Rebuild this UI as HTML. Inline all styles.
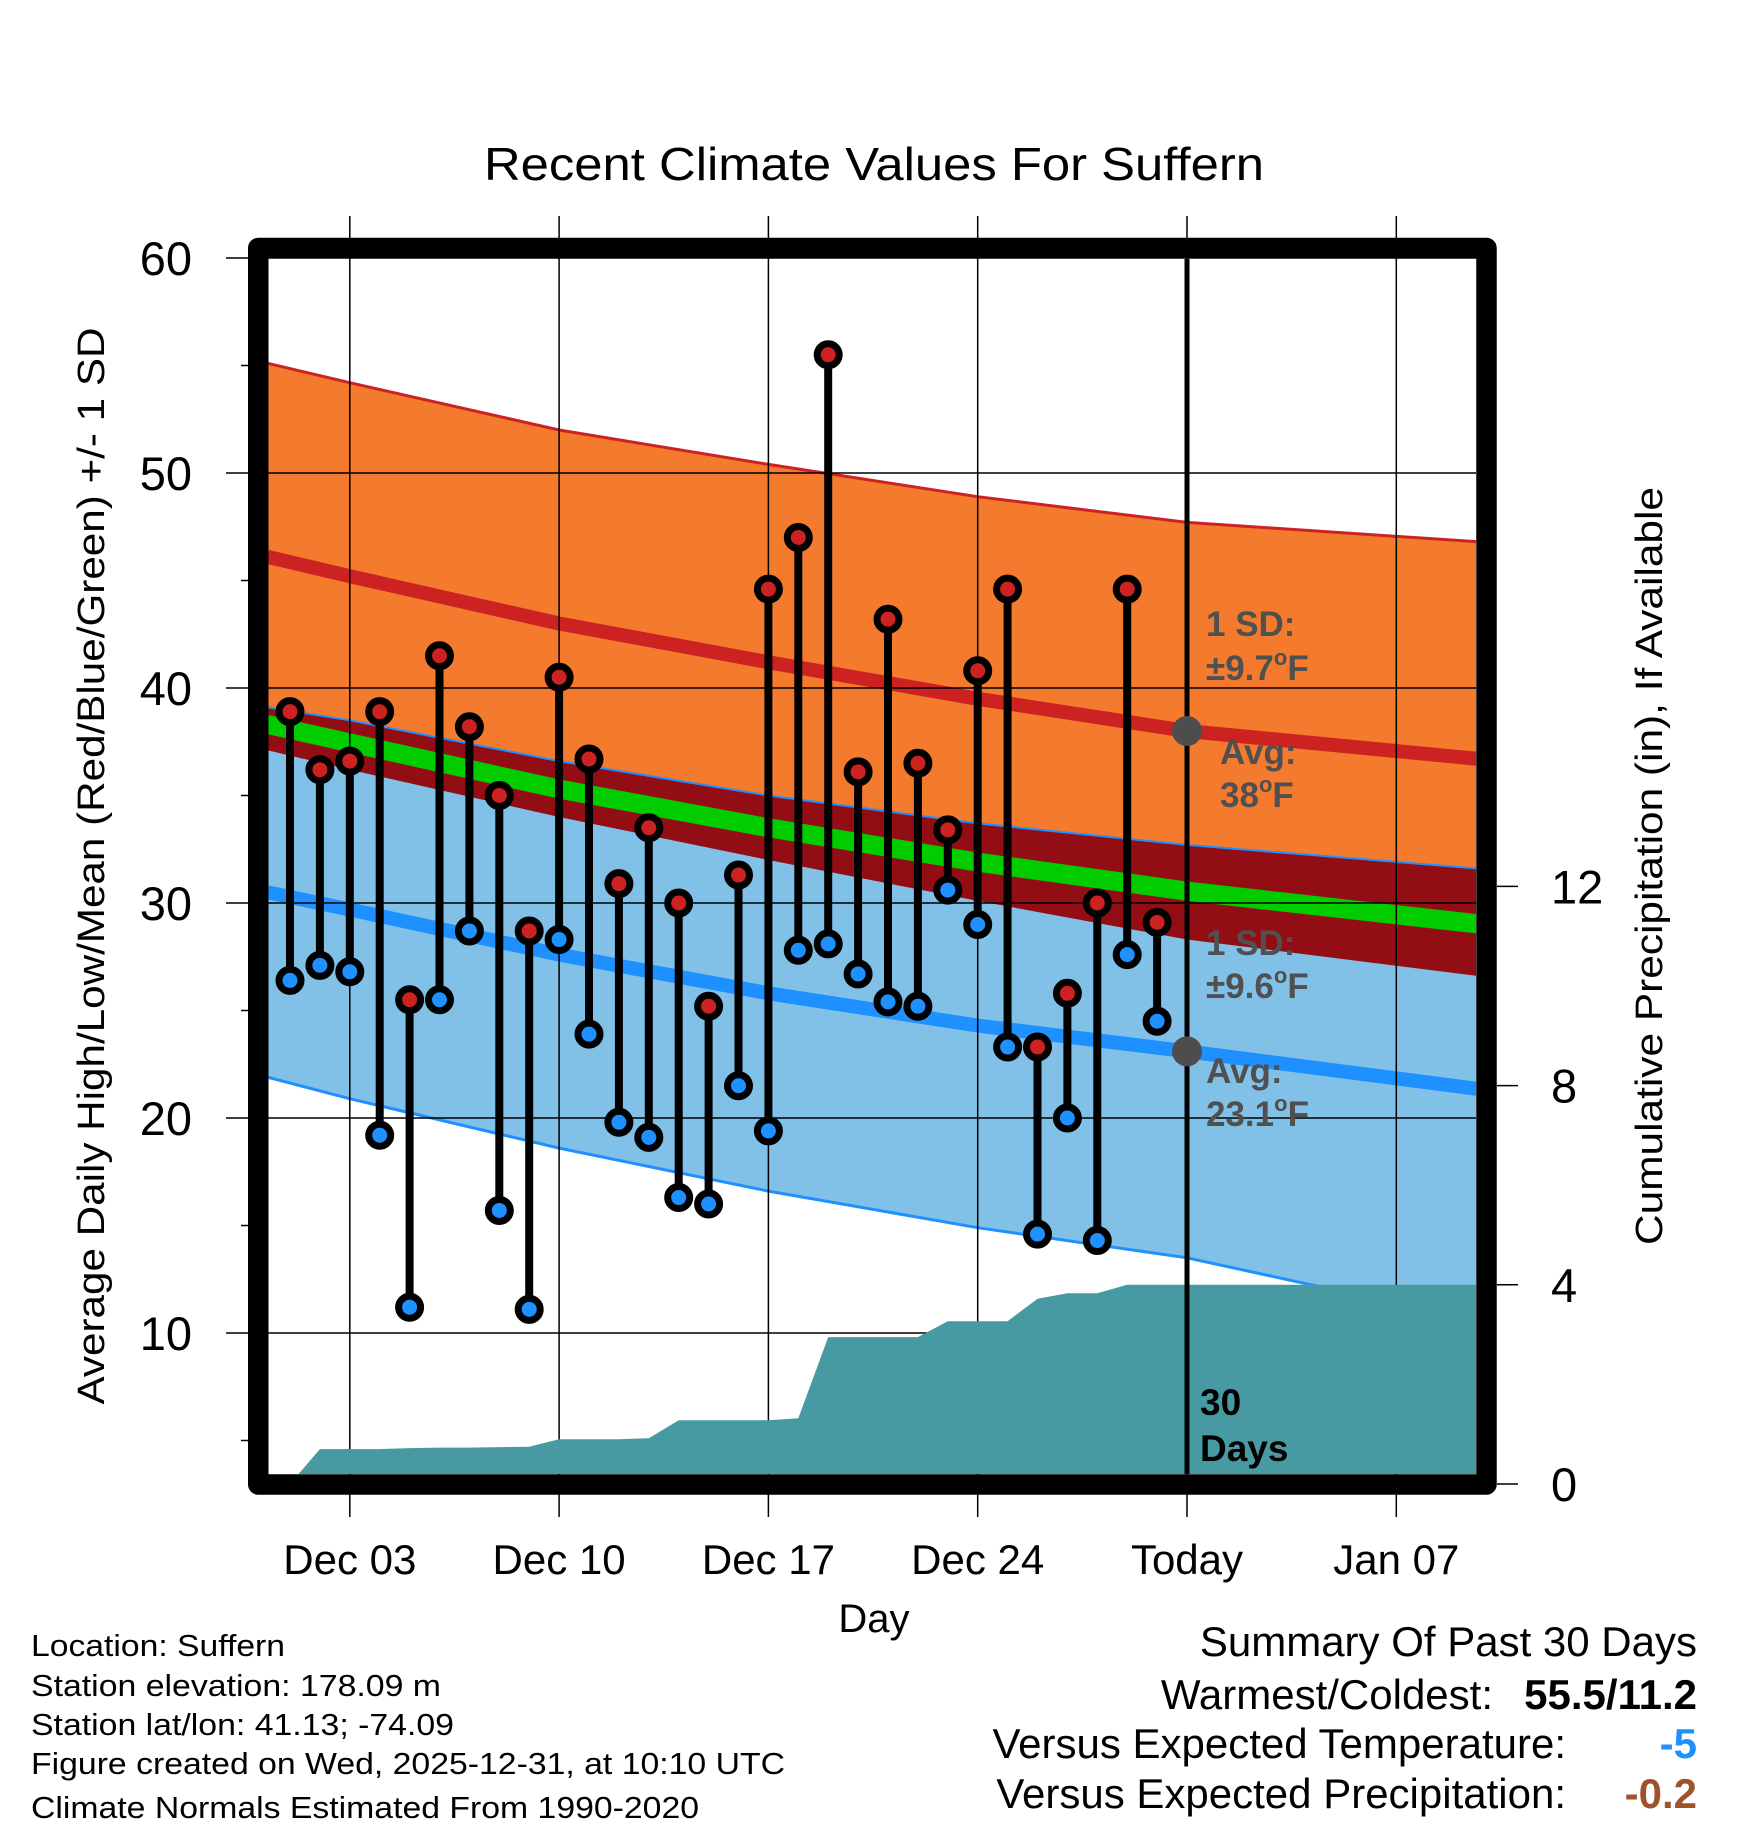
<!DOCTYPE html>
<html><head><meta charset="utf-8">
<style>
html,body{margin:0;padding:0;background:#fff;}
svg{display:block;font-family:"Liberation Sans",Arial,sans-serif;}
</style></head>
<body>
<svg id="chart" width="1748" height="1828" viewBox="2 2 1748 1828" xmlns="http://www.w3.org/2000/svg">
<defs><clipPath id="plotclip"><rect x="270" y="261" width="1208" height="1215"/></clipPath></defs>
<rect x="0" y="0" width="1760" height="1840" fill="#fff"/>
<text x="876" y="182" font-size="46" text-anchor="middle" textLength="780" lengthAdjust="spacingAndGlyphs">Recent Climate Values For Suffern</text>
<g id="bands" clip-path="url(#plotclip)"></g>
<g id="grid"></g>
<g id="precip" clip-path="url(#plotclip)"></g>
<g id="marks"></g>
<g id="annot" font-weight="bold" fill="#505050" font-size="35">
 <text x="1208" y="638">1 SD:</text>
 <text x="1208" y="682">±9.7<tspan font-size="22" dy="-15">o</tspan><tspan dy="15">F</tspan></text>
 <text x="1222" y="766">Avg:</text>
 <text x="1222" y="809">38<tspan font-size="22" dy="-15">o</tspan><tspan dy="15">F</tspan></text>
 <text x="1208" y="957">1 SD:</text>
 <text x="1208" y="1000">±9.6<tspan font-size="22" dy="-15">o</tspan><tspan dy="15">F</tspan></text>
 <text x="1208" y="1085">Avg:</text>
 <text x="1208" y="1128">23.1<tspan font-size="22" dy="-15">o</tspan><tspan dy="15">F</tspan></text>
 <text x="1202" y="1417" fill="#000" font-size="37">30</text>
 <text x="1202" y="1463" fill="#000" font-size="37">Days</text>
</g>
<rect x="260.25" y="250" width="1228.25" height="1236.5" fill="none" stroke="#000" stroke-width="20.5" stroke-linejoin="round"/>
<g id="axes"></g>
<text x="876" y="1634" font-size="40" text-anchor="middle">Day</text>
<text transform="translate(106,868) rotate(-90)" font-size="38" text-anchor="middle" textLength="1077" lengthAdjust="spacingAndGlyphs">Average Daily High/Low/Mean (Red/Blue/Green) +/- 1 SD</text>
<text transform="translate(1664,868) rotate(-90)" font-size="38" text-anchor="middle" textLength="758" lengthAdjust="spacingAndGlyphs">Cumulative Precipitation (in), If Available</text>
<g font-size="31">
 <text x="33" y="1658" textLength="254" lengthAdjust="spacingAndGlyphs">Location: Suffern</text>
 <text x="33" y="1698" textLength="410" lengthAdjust="spacingAndGlyphs">Station elevation: 178.09 m</text>
 <text x="33" y="1737" textLength="423" lengthAdjust="spacingAndGlyphs">Station lat/lon: 41.13; -74.09</text>
 <text x="33" y="1776" textLength="754" lengthAdjust="spacingAndGlyphs">Figure created on Wed, 2025-12-31, at 10:10 UTC</text>
 <text x="33" y="1820" textLength="668" lengthAdjust="spacingAndGlyphs">Climate Normals Estimated From 1990-2020</text>
</g>
<g font-size="42" text-anchor="end">
 <text x="1699" y="1658">Summary Of Past 30 Days</text>
 <text x="1495" y="1711">Warmest/Coldest:</text>
 <text x="1699" y="1711" font-weight="bold">55.5/11.2</text>
 <text x="1568" y="1760">Versus Expected Temperature:</text>
 <text x="1699" y="1760" font-weight="bold" fill="#1E90FF">-5</text>
 <text x="1568" y="1810">Versus Expected Precipitation:</text>
 <text x="1699" y="1810" font-weight="bold" fill="#A0522D">-0.2</text>
</g>
</svg>
<script>
// ---- data ----
const days = [-30,-29,-28,-27,-26,-25,-24,-23,-22,-21,-20,-19,-18,-17,-16,-15,-14,-13,-12,-11,-10,-9,-8,-7,-6,-5,-4,-3,-2,-1];
const highs = [38.9,36.2,36.6,38.9,25.5,41.5,38.2,35.0,28.7,40.5,36.7,30.9,33.5,30.0,25.2,31.3,44.6,47.0,55.5,36.1,43.2,36.5,33.4,40.8,44.6,23.3,25.8,30.0,44.6,29.1];
const lows = [26.4,27.1,26.8,19.2,11.2,25.5,28.7,15.7,11.1,28.3,23.9,19.8,19.1,16.3,16.0,21.5,19.4,27.8,28.1,26.7,25.4,25.2,30.6,29.0,23.3,14.6,20.0,14.3,27.6,24.5];
const precip = [0,0.7,0.7,0.7,0.72,0.73,0.73,0.74,0.75,0.9,0.9,0.9,0.92,1.28,1.28,1.28,1.28,1.32,2.95,2.95,2.95,2.95,3.27,3.27,3.27,3.72,3.83,3.83,4.0,4.0];
const normDays = [-30.75,-28,-21,-14,-7,0,9.75];
const normHigh = [46.1,45.2,43.0,41.2,39.5,38.0,36.7];
const sdHigh = [9.0,9.0,9.0,9.2,9.4,9.7,10.1];
const normLow = [30.5,29.7,27.6,25.8,24.3,23.1,21.35];
const sdLowUp = [8.6,8.8,9.0,9.2,9.4,9.6,10.25];
const sdLowDn = [8.6,8.8,9.0,9.2,9.4,9.6,10.8];
const xTickDays = [-28,-21,-14,-7,0,7];
const xTickLabels = ["Dec 03","Dec 10","Dec 17","Dec 24","Today","Jan 07"];
const yTicks = [60,50,40,30,20,10];
const yMinor = [55,45,35,25,15,5];
const pTicks = [0,4,8,12];

// ---- scales ----
const X = d => 1189 + d*29.9;
const YT = v => 260 + (60-v)*21.5;
const YP = p => 1486 - p*49.8;
const NS = "http://www.w3.org/2000/svg";
function mk(tag, attrs, parent){const e=document.createElementNS(NS,tag);for(const k in attrs)e.setAttribute(k,attrs[k]);parent.appendChild(e);return e;}
const pts = arr => arr.map(p=>p[0].toFixed(1)+","+p[1].toFixed(1)).join(" ");

// bands
const bands = document.getElementById('bands');
const hiUp = normDays.map((d,i)=>[X(d),YT(normHigh[i]+sdHigh[i])]);
const hiDn = normDays.map((d,i)=>[X(d),YT(normHigh[i]-sdHigh[i])]);
const loUp = normDays.map((d,i)=>[X(d),YT(normLow[i]+sdLowUp[i])]);
const loDn = normDays.map((d,i)=>[X(d),YT(normLow[i]-sdLowDn[i])]);
const meanUp = normDays.map((d,i)=>[X(d),YT((normHigh[i]+normLow[i])/2+0.45)]);
const meanDn = normDays.map((d,i)=>[X(d),YT((normHigh[i]+normLow[i])/2-0.45)]);
let e;
e = mk('polygon',{points:pts(hiUp.concat(hiDn.slice().reverse())),fill:'#F47A2E'},bands);


e = mk('polygon',{points:pts(loUp.concat(loDn.slice().reverse())),fill:'#82C1E7'},bands);


e = mk('polygon',{points:pts(loUp.concat(hiDn.slice().reverse())),fill:'#930E14'},bands);


e = mk('polygon',{points:pts(meanUp.concat(meanDn.slice().reverse())),fill:'#00CC00'},bands);


e = mk('polyline',{points:pts(hiUp),fill:'none',stroke:'#CC2222','stroke-width':3},bands);


e = mk('polyline',{points:pts(loUp),fill:'none',stroke:'#1E90FF','stroke-width':2},bands);


e = mk('polyline',{points:pts(loDn),fill:'none',stroke:'#1E90FF','stroke-width':3},bands);


e = mk('polyline',{points:pts(normDays.map((d,i)=>[X(d),YT(normHigh[i])])),fill:'none',stroke:'#CC2222','stroke-width':14},bands);


e = mk('polyline',{points:pts(normDays.map((d,i)=>[X(d),YT(normLow[i])])),fill:'none',stroke:'#1E90FF','stroke-width':14},bands);



// grid
const grid = document.getElementById('grid');
yTicks.forEach(v=>{
  e = mk('line',{x1:228,x2:1478,y1:YT(v),y2:YT(v),stroke:'#000','stroke-width':1.5},grid);
  
  
});
yMinor.forEach(v=>{
  if(YT(v)>1476) return;
  e = mk('line',{x1:243,x2:252,y1:YT(v),y2:YT(v),stroke:'#000','stroke-width':1.5},grid);
  
  
});
xTickDays.forEach(d=>{
  e = mk('line',{x1:X(d),x2:X(d),y1:218,y2:1519,stroke:'#000','stroke-width':1.5},grid);
  
  
});

// precip
const pg = document.getElementById('precip');
const pp = [[X(days[0]),YP(0)]].concat(days.map((d,i)=>[X(d),YP(precip[i])]));
pp.push([1480,YP(precip[precip.length-1])]);
pp.push([1480,1490]);pp.push([X(days[0]),1490]);
e = mk('polygon',{points:pts(pp),fill:'#489AA2'},pg);



// marks
const mg = document.getElementById('marks');
e = mk('line',{x1:X(0),x2:X(0),y1:261,y2:1476,stroke:'#000','stroke-width':5},mg);


e = mk('circle',{cx:X(0),cy:YT(normHigh[5]),r:15,fill:'#4d4d4d'},mg);


e = mk('circle',{cx:X(0),cy:YT(normLow[5]),r:15,fill:'#4d4d4d'},mg);


days.forEach((d,i)=>{
  const x=X(d);
  e = mk('line',{x1:x,x2:x,y1:YT(highs[i]),y2:YT(lows[i]),stroke:'#000','stroke-width':8},mg);
  
  
});
days.forEach((d,i)=>{
  const x=X(d);
  e = mk('circle',{cx:x,cy:YT(highs[i]),r:11,fill:'#CC2222',stroke:'#000','stroke-width':7},mg);
  
  
  e = mk('circle',{cx:x,cy:YT(lows[i]),r:11,fill:'#1E90FF',stroke:'#000','stroke-width':7},mg);
  
  
});

// axes labels
const ax = document.getElementById('axes');
yTicks.forEach(v=>{
  e = mk('text',{x:194,y:YT(v)+17,'font-size':47,'text-anchor':'end'},ax);
  e.textContent=String(v);
  
  
});
pTicks.forEach(p=>{
  e = mk('line',{x1:1499,x2:1520,y1:YP(p),y2:YP(p),stroke:'#000','stroke-width':1.5},ax);
  
  
  e = mk('text',{x:1553,y:YP(p)+17,'font-size':47},ax);
  e.textContent=String(p);
  
  
});
xTickDays.forEach((d,i)=>{
  e = mk('text',{x:X(d),y:1576,'font-size':42,'text-anchor':'middle'},ax);
  e.textContent=xTickLabels[i];
  
  
});
</script>
</body></html>
